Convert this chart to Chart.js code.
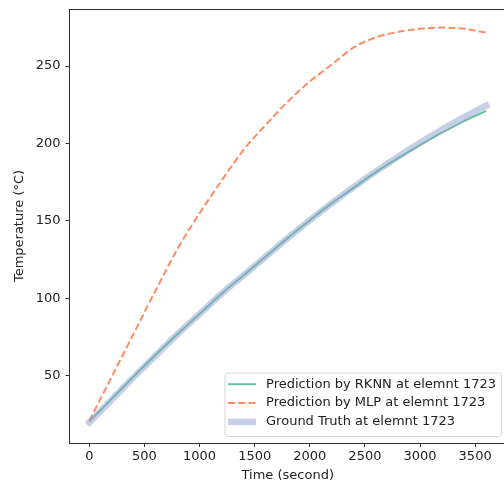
<!DOCTYPE html>
<html>
<head>
<meta charset="utf-8">
<script src="https://cdn.jsdelivr.net/npm/chart.js@4.4.0/dist/chart.umd.min.js"></script>
<style>
  html, body { margin: 0; padding: 0; background: #fff; overflow: hidden; }
  #moldura { width: 504px; height: 487px; overflow: hidden; }
</style>
</head>
<body>
<div id="moldura"><canvas id="grafico" width="506" height="487"></canvas></div>
<script>
// valores (tempo em segundos, temperatura em °C)
const tempos = [0, 200, 400, 600, 800, 1000, 1200, 1400, 1600, 1800, 2000, 2200, 2400, 2600, 2800, 3000, 3200, 3400, 3600];
const verdade = [20, 34.5, 49, 63, 77, 90, 103, 115, 127, 139, 150.5, 161.5, 172, 182, 191.5, 200.5, 209, 217, 224.5];
const rknn = [20.5, 35, 49.5, 63.5, 77, 90, 103, 115, 127, 139, 150.5, 161.5, 171.5, 181.5, 190.5, 199, 207, 214.5, 221];
const mlp = [21, 49, 77, 105, 132, 155, 176, 196, 212, 227, 240, 251, 262, 268.5, 272, 274, 274.8, 274, 271.5];
const ticksX = [0, 500, 1000, 1500, 2000, 2500, 3000, 3500];
const ticksY = [50, 100, 150, 200, 250];

const nomes = [
    'Prediction by RKNN at elemnt 1723',
    'Prediction by MLP at elemnt 1723',
    'Ground Truth at elemnt 1723'
];

const fonte = '"DejaVu Sans", sans-serif';
const tamanho = 13;
const corTexto = '#222';

function pontos(valores) {
    return tempos.map((t, i) => ({ x: t, y: valores[i] }));
}

// borda de cima (o eixo da direita fica fora da imagem)
const bordaTopo = {
    id: 'bordaTopo',
    afterDraw(chart) {
        const ctx = chart.ctx;
        const a = chart.chartArea;
        ctx.save();
        ctx.strokeStyle = '#333';
        ctx.lineWidth = 1;
        ctx.beginPath();
        ctx.moveTo(a.left, a.top + 0.5);
        ctx.lineTo(a.right, a.top + 0.5);
        ctx.stroke();
        ctx.restore();
    }
};

// legenda no canto inferior direito, como no matplotlib
const legenda = {
    id: 'legenda',
    afterDraw(chart) {
        const ctx = chart.ctx;
        const a = chart.chartArea;
        ctx.save();
        ctx.font = tamanho + 'px ' + fonte;
        const larguraTexto = Math.max(...nomes.map(n => ctx.measureText(n).width));
        const largura = 41.5 + larguraTexto + 5;
        const altura = 63.5;
        const direita = a.right - 5;
        const base = a.bottom - 7;
        const esquerda = direita - largura;
        const topo = base - altura;

        ctx.beginPath();
        ctx.roundRect(esquerda + 0.5, topo + 0.5, largura, altura, 3);
        ctx.fillStyle = 'rgba(255,255,255,0.8)';
        ctx.fill();
        ctx.strokeStyle = '#d6d6d6';
        ctx.lineWidth = 1;
        ctx.stroke();

        const linhas = [11.7, 30.5, 49.4];
        const ds = chart.data.datasets;
        const ordem = [1, 2, 0]; // rknn, mlp, verdade
        ordem.forEach((k, i) => {
            const d = ds[k];
            const y = topo + linhas[i];
            ctx.beginPath();
            ctx.strokeStyle = d.borderColor;
            ctx.lineWidth = d.borderWidth;
            ctx.lineCap = d.borderCapStyle || 'butt';
            ctx.setLineDash(d.borderDash || []);
            const ajuste = d.borderCapStyle === 'square' ? d.borderWidth / 2 : 0;
            ctx.moveTo(esquerda + 3.5 + ajuste, y);
            ctx.lineTo(esquerda + 31.5 - ajuste, y);
            ctx.stroke();
            ctx.setLineDash([]);
            ctx.fillStyle = corTexto;
            ctx.textBaseline = 'middle';
            ctx.textAlign = 'left';
            ctx.fillText(nomes[i], esquerda + 41.5, y);
        });
        ctx.restore();
    }
};

new Chart(document.getElementById('grafico'), {
    type: 'line',
    data: {
        datasets: [{
            label: nomes[2],
            data: pontos(verdade),
            borderColor: 'rgba(141,160,203,0.5)',
            borderWidth: 6.5,
            borderCapStyle: 'square',
            cubicInterpolationMode: 'monotone',
            pointRadius: 0,
            order: 0
        }, {
            label: nomes[0],
            data: pontos(rknn),
            borderColor: '#66c2a5',
            borderWidth: 2,
            cubicInterpolationMode: 'monotone',
            pointRadius: 0,
            order: 2
        }, {
            label: nomes[1],
            data: pontos(mlp),
            borderColor: '#fc8d62',
            borderWidth: 2,
            borderDash: [7, 3.2],
            cubicInterpolationMode: 'monotone',
            pointRadius: 0,
            order: 1
        }]
    },
    options: {
        responsive: false,
        animation: false,
        devicePixelRatio: 1,
        layout: { padding: { top: 9, left: 0, right: 0, bottom: 0 } },
        plugins: {
            legend: { display: false },
            tooltip: { enabled: false }
        },
        scales: {
            x: {
                type: 'linear',
                min: -180,
                max: 3780,
                afterBuildTicks: (scale) => { scale.ticks = ticksX.map(v => ({ value: v })); },
                afterFit: (scale) => { scale.height = 44; scale.paddingLeft = 0; scale.paddingRight = 0; },
                ticks: {
                    font: { family: fonte, size: tamanho },
                    color: corTexto,
                    padding: 2,
                    maxRotation: 0,
                    callback: (v) => String(v)
                },
                grid: { drawOnChartArea: false, tickLength: 4, tickColor: '#333', tickWidth: 1 },
                border: { color: '#333', width: 1 },
                title: {
                    display: true,
                    text: 'Time (second)',
                    font: { family: fonte, size: tamanho },
                    color: corTexto,
                    padding: { top: 2, bottom: 4 }
                }
            },
            y: {
                type: 'linear',
                min: 6.7,
                max: 286.8,
                afterBuildTicks: (scale) => { scale.ticks = ticksY.map(v => ({ value: v })); },
                afterFit: (scale) => { scale.width = 69.5; scale.paddingTop = 0; scale.paddingBottom = 0; },
                ticks: {
                    font: { family: fonte, size: tamanho },
                    color: corTexto,
                    padding: 5,
                    callback: (v) => String(v)
                },
                grid: { drawOnChartArea: false, tickLength: 4, tickColor: '#333', tickWidth: 1 },
                border: { color: '#333', width: 1 },
                title: {
                    display: true,
                    text: 'Temperature (°C)',
                    font: { family: fonte, size: tamanho },
                    color: corTexto,
                    padding: { top: 12, bottom: 0 }
                }
            }
        }
    },
    plugins: [bordaTopo, legenda]
});
</script>
</body>
</html>
